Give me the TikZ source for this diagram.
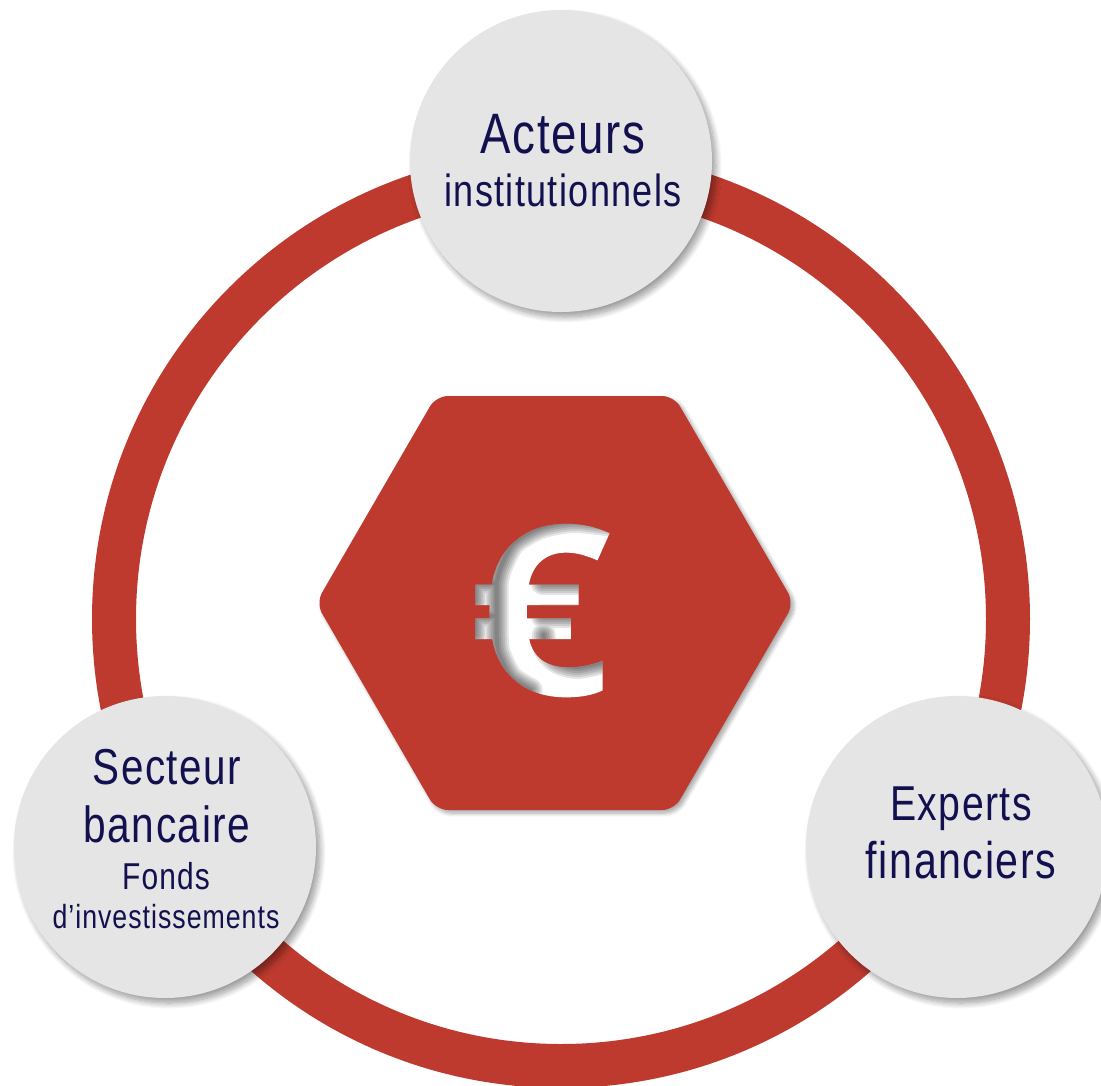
\documentclass[tikz,border=0pt]{standalone}
\usepackage{fontspec}
\setmainfont{Liberation Sans}
\newfontfamily\cond{Liberation Sans}[FakeStretch=0.8,LetterSpace=3]
\newfontfamily\eurofont{Open Sans}[FakeStretch=1.06]
\usetikzlibrary{shadows.blur,calc}
\definecolor{brick}{HTML}{BE3A2E}
\definecolor{disc}{HTML}{E5E5E5}
\definecolor{ink}{HTML}{12104F}
\makeatletter
\newcommand{\clipglyphbegin}{\pgfsys@invoke{q 7 Tr}}
\newcommand{\clipglyphend}{\pgfsys@invoke{0 Tr}}
\newcommand{\clipglyphclose}{\pgfsys@invoke{Q}}
\makeatother
\tikzset{
 px/.style={x=1pt,y=-1pt},
 bubble/.style={circle,fill=disc,minimum size=302pt,inner sep=0pt,blur shadow={shadow xshift=4pt,shadow yshift=-5pt,shadow blur steps=12,shadow blur radius=6pt,shadow opacity=40}},
 lab/.style={text=ink,anchor=base,inner sep=0pt},
 sz/.style={font=\cond\fontsize{#1}{#1}\selectfont},
 euroglyph/.style={inner sep=0pt,anchor=base west,font=\eurofont\bfseries\fontsize{238}{238}\selectfont},
}
\begin{document}
\begin{tikzpicture}[px]
\useasboundingbox (0,0) rectangle (1101,1085);
\coordinate (c) at (561,619);
\draw[brick,line width=44pt] (c) circle (447);
\path[fill=brick,rounded corners=12pt,blur shadow={shadow xshift=3pt,shadow yshift=-3pt,shadow blur steps=8,shadow blur radius=4pt,shadow opacity=35}] (316,603) -- (436,396) -- (674,396) -- (794,603) -- (674,810) -- (436,810) -- cycle;
\node[euroglyph,text=white] (euro) at (466.6,695) {\clipglyphbegin\rlap{€}\clipglyphend
\tikz[overlay,px,shift={(-466.6,-695)}]{
 \fill[white] (400,450) rectangle (680,760);
 \foreach \w in {24,20,16,12,8,4}{
  \draw[black,opacity=0.1,line width=\w pt,line cap=round]
   plot[smooth] coordinates {(612,525) (573,521) (540,527) (513,543) (500,567) (496,583)}
   (496,583) -- (496,635)
   plot[smooth] coordinates {(496,635) (498,653) (510,677) (530,690)}
   (470,583) -- (496,583)  (470,616) -- (496,616)
   (474,583) -- (474,602)  (474,616) -- (474,635)
   (542,583) -- (590,583)  (542,616) -- (590,616)
   plot[smooth] coordinates {(543,635) (545,650) (557,662) (577,667) (606,661)};
 }
}\clipglyphclose};
\node[bubble] (a) at (561,161) {};
\node[bubble] (s) at (165,847) {};
\node[bubble] (e) at (957,847) {};
\node[lab,sz=57] (t1) at (563,153) {Acteurs};
\node[lab,sz=45] (t2) at (563,206) {institutionnels};
\node[lab,sz=50.5] (t3) at (167,784) {Secteur};
\node[lab,sz=50.8] (t4) at (167,842) {bancaire};
\node[lab,sz=37.4] (t5) at (166,889) {Fonds};
\node[lab,sz=33.4] (t6) at (166,928) {d’investissements};
\node[lab,sz=49] (t7) at (961,820) {Experts};
\node[lab,sz=51.5] (t8) at (961,878) {financiers};
\end{tikzpicture}
\end{document}
